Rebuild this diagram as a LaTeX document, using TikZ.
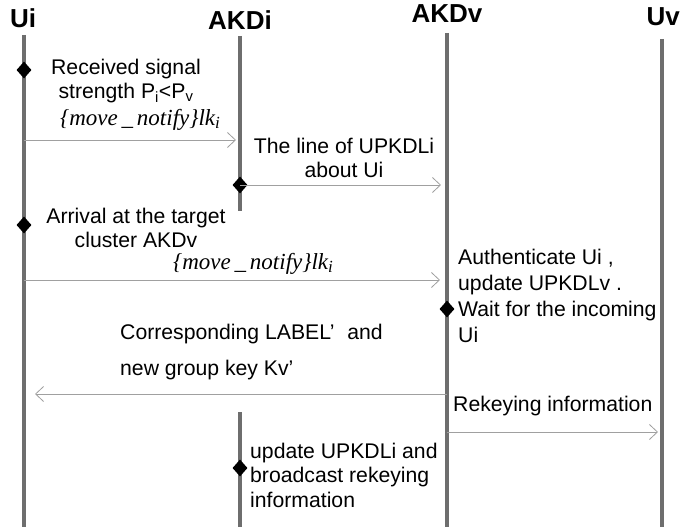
\documentclass[tikz,border=0pt]{standalone}
\usepackage{fontspec}
\setmainfont{Liberation Sans}
\newfontfamily\msgfont{Liberation Serif}
\usetikzlibrary{arrows.meta,shapes.geometric}
\definecolor{lifegray}{HTML}{6E6E6E}
\definecolor{msggray}{HTML}{A0A0A0}
\begin{document}
\begin{tikzpicture}[x=1pt,y=-1pt,
  actor/.style={font=\fontsize{26}{30}\selectfont\bfseries, inner sep=0pt},
  lifeline/.style={draw=lifegray, line width=3.2pt},
  msg/.style={draw=msggray, line width=0.9pt, -{Straight Barb[length=8pt,width=15pt,line width=0.8pt]}},
  event/.style={diamond, fill=black, inner sep=0pt, minimum width=15pt, minimum height=17pt},
  note/.style={font=\fontsize{21.2}{24.5}\selectfont, inner sep=0pt},
  secret/.style={font=\msgfont\itshape\fontsize{23}{26}\selectfont, inner sep=0pt}]
\useasboundingbox (0,0) rectangle (680,529);

% participants
\node[actor] (hUi)   at (23,18)  {Ui};
\node[actor] (hAKDi) at (240,20) {AKDi};
\node[actor] (hAKDv) at (447,14) {AKDv};
\node[actor, anchor=east] (hUv) at (680,17) {Uv};

% lifelines
\coordinate (uiTop)  at (24,35);   \coordinate (uiBot)  at (24,527);
\coordinate (aiTop)  at (240,36);  \coordinate (aiEnd)  at (240,211);
\coordinate (aiTop2) at (240,412); \coordinate (aiBot)  at (240,527);
\coordinate (avTop)  at (447,33);  \coordinate (avBot)  at (447,527);
\coordinate (uvTop)  at (662,39);  \coordinate (uvBot)  at (662,527);
\draw[lifeline] (uiTop) -- (uiBot);
\draw[lifeline] (aiTop) -- (aiEnd);
\draw[lifeline] (aiTop2) -- (aiBot);
\draw[lifeline] (avTop) -- (avBot);
\draw[lifeline] (uvTop) -- (uvBot);

% local events
\node[event] (e1) at (24,70)  {};
\node[event] (e2) at (240,185) {};
\node[event] (e3) at (24,225) {};
\node[event] (e4) at (447,309) {};
\node[event] (e5) at (240,468) {};

% message end points
\coordinate (m1s) at (24,140);  \coordinate (m1e) at (236,140);
\coordinate (m3s) at (24,280);  \coordinate (m3e) at (440,280);
\coordinate (m4s) at (447,394); \coordinate (m4e) at (35,394);
\coordinate (m5s) at (447,432); \coordinate (m5e) at (658,432);
\coordinate (m2e) at (441,185);

% messages
\draw[msg] (m1s) -- (m1e);
\draw[msg] (e2.center) -- (m2e);
\draw[msg] (m3s) -- (m3e);
\draw[msg] (m4s) -- (m4e);
\draw[msg] (m5s) -- (m5e);

% labels
\node[note, align=center] (t1) at (126,81) {Received signal\\strength P\textsubscript{i}<P\textsubscript{v}};
\node[secret] (k1) at (140,120) {\{move\,\_\,notify\}lk\raisebox{-0.3ex}{\fontsize{17}{17}\selectfont i}};
\node[note, align=center] (t2) at (344,158) {The line of UPKDLi\\about Ui};
\node[note, align=center] (t3) at (136,228) {Arrival at the target\\cluster AKDv};
\node[secret] (k2) at (253,264) {\{move\,\_\,notify\}lk\raisebox{-0.3ex}{\fontsize{17}{17}\selectfont i}};
\node[note, align=left, anchor=west, font=\fontsize{21.2}{26}\selectfont] (t4) at (458,296)
  {Authenticate Ui ,\\update UPKDLv .\\Wait for the incoming\\Ui};
\node[note, anchor=west] (t5) at (120,334) {Corresponding LABEL’\hspace{0.6em}and};
\node[note, anchor=west] (t6) at (120,370) {new group key Kv’};
\node[note, anchor=west] (t7) at (453,406) {Rekeying information};
\node[note, align=left, anchor=west] (t8) at (250,475)
  {update UPKDLi and\\broadcast rekeying\\information};
\end{tikzpicture}
\end{document}
